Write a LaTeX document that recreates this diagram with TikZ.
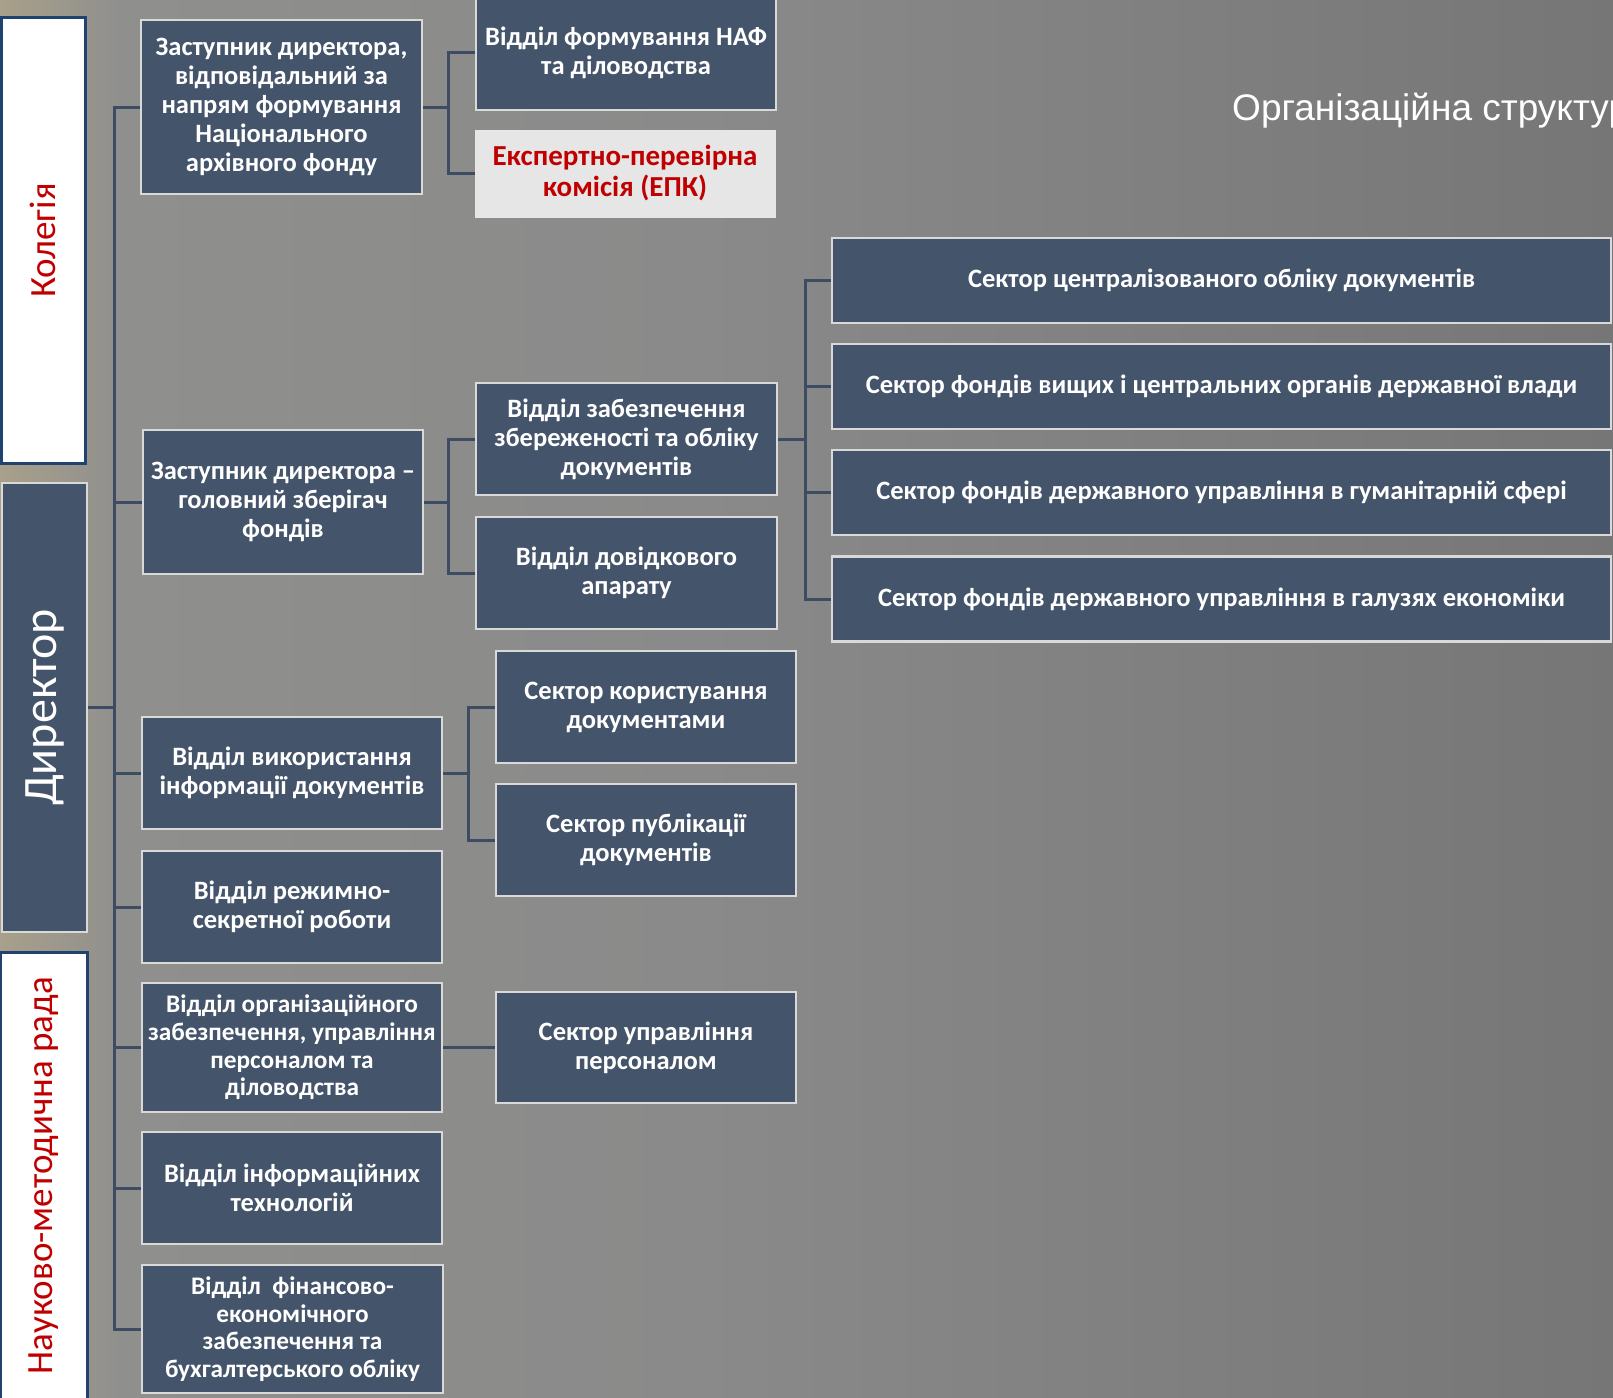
\documentclass[tikz,border=0pt]{standalone}
\usepackage{fontspec}
\setmainfont{Carlito}
\newfontfamily\titlefont{Liberation Sans}
\usetikzlibrary{calc}
\definecolor{boxfill}{HTML}{44546A}
\definecolor{boxedge}{HTML}{D9D9D9}
\definecolor{connc}{HTML}{3D4C63}
\definecolor{redt}{HTML}{C00000}
\definecolor{epkfill}{HTML}{E7E6E6}
\definecolor{sideedge}{HTML}{1F4270}
\definecolor{bgA}{HTML}{A8A08A}
\definecolor{bgB}{HTML}{8F8F8D}
\definecolor{bgC}{HTML}{8A8A8A}
\definecolor{bgD}{HTML}{767676}
\pgfdeclarelayer{bg}
\pgfdeclarelayer{conn}
\pgfsetlayers{bg,conn,main}
\tikzset{
  unitbox/.style={draw=boxedge, fill=boxfill, line width=2.5pt, text=white,
    font=\bfseries\fontsize{26.5}{29}\selectfont, align=center, inner sep=0pt},
  smallfont/.style={font=\bfseries\fontsize{25.3}{27.7}\selectfont},
  epkbox/.style={draw=epkfill, fill=epkfill, line width=1pt, text=redt,
    font=\bfseries\fontsize{29}{31}\selectfont, align=center, inner sep=0pt},
  sidewhite/.style={draw=sideedge, fill=white, line width=3pt, inner sep=0pt},
  sidedark/.style={draw=boxedge, fill=boxfill, line width=2.5pt, inner sep=0pt},
  sidelabel/.style={rotate=90, inner sep=0pt},
  conn/.style={draw=connc, line width=3pt},
}
\begin{document}
\begin{tikzpicture}[x=1pt,y=-1pt]
\useasboundingbox (0,0) rectangle (1613,1397);
\begin{pgfonlayer}{bg}
\shade[left color=bgA, right color=bgB] (0,0) rectangle (120,1397);
\shade[left color=bgB, right color=bgC] (120,0) rectangle (700,1397);
\shade[left color=bgC, right color=bgD] (700,0) rectangle (1613,1397);
\end{pgfonlayer}

% side boxes
\node[sidewhite, minimum width=84pt, minimum height=445pt] (kol) at (43,240.5) {};
\node[sidelabel, text=redt, font=\fontsize{37}{40}\selectfont] (kolt) at (kol.center) {Колегія};
\node[sidedark, minimum width=85pt, minimum height=449pt] (dir) at (44.5,707.5) {};
\node[sidelabel, text=white, font=\fontsize{48}{52}\selectfont] (dirt) at (dir.center) {Директор};
\node[sidewhite, minimum width=87pt, minimum height=447pt] (nmr) at (43.5,1175.5) {};
\node[sidelabel, text=redt, font=\fontsize{37}{40}\selectfont] (nmrt) at (nmr.center) {Науково-методична рада};

% title
\node[anchor=base west, inner sep=0pt, text=white, font=\titlefont\fontsize{37}{40}\selectfont] (title) at (1232,120) {Організаційна структура};

% level 1
\node[unitbox, minimum width=281pt, minimum height=174pt] (z1) at (281.5,107) {Заступник директора,\\відповідальний за\\напрям формування\\Національного\\архівного фонду};
\node[unitbox, minimum width=280pt, minimum height=144pt] (z2) at (283,502) {Заступник директора –\\головний зберігач\\фондів};
\node[unitbox, minimum width=300pt, minimum height=112pt] (vyk) at (292,773) {Відділ використання\\інформації документів};
\node[unitbox, minimum width=300pt, minimum height=112pt] (rez) at (292,907) {Відділ режимно-\\секретної роботи};
\node[unitbox, smallfont, minimum width=300pt, minimum height=129pt] (org) at (292,1047.5) {Відділ організаційного\\забезпечення, управління\\персоналом та\\діловодства};
\node[unitbox, minimum width=300pt, minimum height=112pt] (it) at (292,1188) {Відділ інформаційних\\технологій};
\node[unitbox, smallfont, minimum width=301pt, minimum height=128pt] (fin) at (292.5,1329) {Відділ\ \ фінансово-\\економічного\\забезпечення та\\бухгалтерського обліку};

% level 2
\node[unitbox, minimum width=300pt, minimum height=114pt] (naf) at (626,53) {Відділ формування НАФ\\та діловодства};
\node[epkbox, minimum width=300pt, minimum height=87pt] (epk) at (625,173.5) {Експертно-перевірна\\комісія (ЕПК)};
\node[unitbox, minimum width=301pt, minimum height=112pt] (zb) at (626.5,439) {Відділ забезпечення\\збереженості та обліку\\документів};
\node[unitbox, minimum width=301pt, minimum height=112pt] (dov) at (626.5,573) {Відділ довідкового\\апарату};
\node[unitbox, minimum width=300pt, minimum height=112pt] (kor) at (646,707) {Сектор користування\\документами};
\node[unitbox, minimum width=300pt, minimum height=112pt] (pub) at (646,840) {Сектор публікації\\документів};
\node[unitbox, minimum width=300pt, minimum height=111pt] (up) at (646,1047.5) {Сектор управління\\персоналом};

% level 3
\node[unitbox, minimum width=779pt, minimum height=85pt] (s1) at (1221.5,280.5) {Сектор централізованого обліку документів};
\node[unitbox, minimum width=779pt, minimum height=85pt] (s2) at (1221.5,386.5) {Сектор фондів вищих і центральних органів державної влади};
\node[unitbox, minimum width=779pt, minimum height=85pt] (s3) at (1221.5,492.5) {Сектор фондів державного управління в гуманітарній сфері};
\node[unitbox, minimum width=779pt, minimum height=85pt] (s4) at (1221.5,599) {Сектор фондів державного управління в галузях економіки};

% branch coordinates
\coordinate (tr) at (114,0);
\coordinate (b1) at (448,0);
\coordinate (b3) at (805,0);
\coordinate (b4) at (468,0);

\begin{pgfonlayer}{conn}
\draw[conn] (z1.west) -| (tr |- fin.west) -- (fin.west);
\draw[conn] (z2.west) -- (z2.west -| tr);
\draw[conn] (vyk.west) -- (vyk.west -| tr);
\draw[conn] (rez.west) -- (rez.west -| tr);
\draw[conn] (org.west) -- (org.west -| tr);
\draw[conn] (it.west) -- (it.west -| tr);
\draw[conn] (dir.east) -- (dir.east -| tr);
\draw[conn] (naf.west) -| (b1 |- epk.west) -- (epk.west);
\draw[conn] (z1.east) -- (z1.east -| b1);
\draw[conn] (zb.west) -| (b1 |- dov.west) -- (dov.west);
\draw[conn] (z2.east) -- (z2.east -| b1);
\draw[conn] (s1.west) -| (b3 |- s4.west) -- (s4.west);
\draw[conn] (s2.west) -- (s2.west -| b3);
\draw[conn] (s3.west) -- (s3.west -| b3);
\draw[conn] (zb.east) -- (zb.east -| b3);
\draw[conn] (kor.west) -| (b4 |- pub.west) -- (pub.west);
\draw[conn] (vyk.east) -- (vyk.east -| b4);
\draw[conn] (org.east) -- (up.west);
\end{pgfonlayer}
\end{tikzpicture}
\end{document}
